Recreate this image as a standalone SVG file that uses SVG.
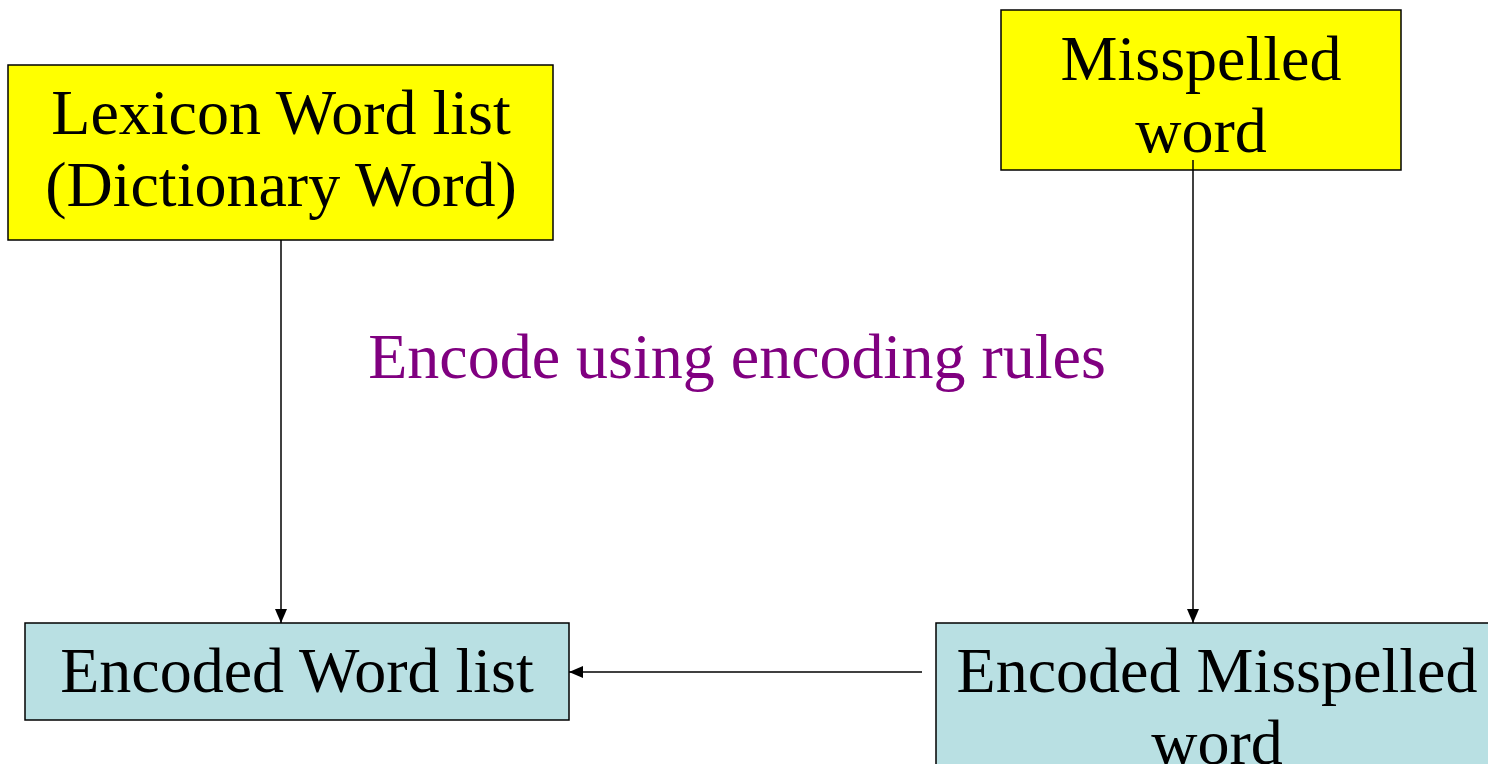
<svg xmlns="http://www.w3.org/2000/svg" width="1488" height="764" viewBox="0 0 1488 764">
<style>
.box{stroke:#000;stroke-width:1.5}
.y{fill:#FFFF00}
.c{fill:#B9E0E3}
.t{font-family:"Liberation Serif","Times New Roman",serif;font-size:64px;fill:#000;text-anchor:middle}
.lbl{font-family:"Liberation Serif","Times New Roman",serif;font-size:64px;fill:#800080;text-anchor:middle}
.ln{stroke:#000;stroke-width:1.5;fill:none}
</style>
<defs>
<marker id="ah" viewBox="0 0 14 12" refX="14" refY="6" markerWidth="14" markerHeight="12" markerUnits="userSpaceOnUse" orient="auto">
<path d="M0,0 L14,6 L0,12 Z" fill="#000"/>
</marker>
</defs>
<rect width="1488" height="764" fill="#fff"/>
<g id="lexicon">
<rect class="box y" x="8" y="65" width="545" height="175"/>
<text class="t" x="281" y="134">Lexicon Word list</text>
<text class="t" x="281" y="206">(Dictionary Word)</text>
</g>
<g id="misspelled">
<rect class="box y" x="1001" y="10" width="400" height="160"/>
<text class="t" x="1201" y="80">Misspelled</text>
<text class="t" x="1201" y="152">word</text>
</g>
<g id="encoded-list">
<rect class="box c" x="25" y="623" width="544" height="97"/>
<text class="t" x="297" y="692">Encoded Word list</text>
</g>
<g id="encoded-misspelled">
<rect class="box c" x="936" y="623" width="562" height="160"/>
<text class="t" x="1217" y="692">Encoded Misspelled</text>
<text class="t" x="1217" y="764">word</text>
</g>
<g id="label">
<text class="lbl" x="737" y="378">Encode using encoding rules</text>
</g>
<g id="connectors">
<line class="ln" x1="281" y1="240" x2="281" y2="623" marker-end="url(#ah)"/>
<line class="ln" x1="1193" y1="160" x2="1193" y2="623" marker-end="url(#ah)"/>
<line class="ln" x1="922" y1="672" x2="569" y2="672" marker-end="url(#ah)"/>
</g>
</svg>
